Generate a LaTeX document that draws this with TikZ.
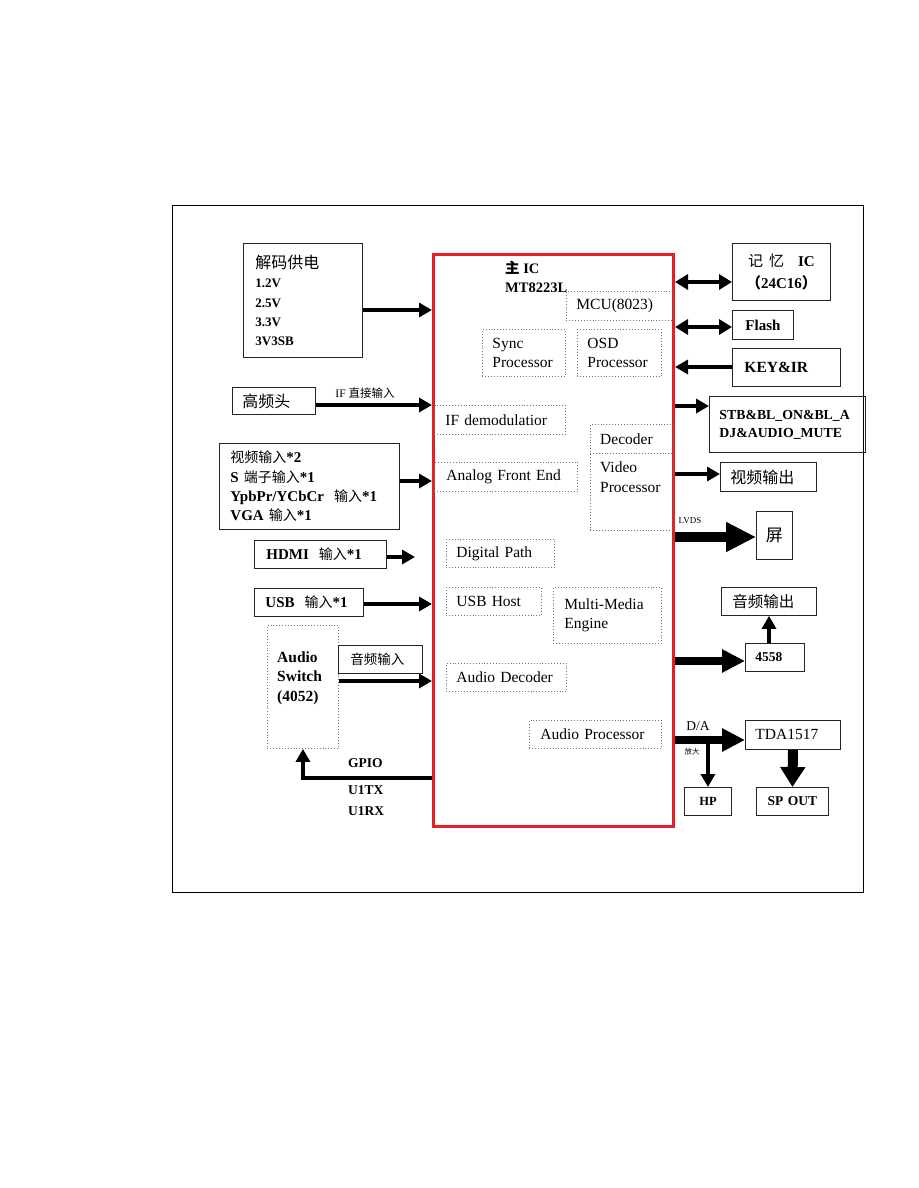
\documentclass[tikz,border=0pt]{standalone}
\usepackage{fontspec}
\setmainfont{Liberation Serif}
\newfontfamily\cjk{Noto Sans CJK SC}
\usetikzlibrary{arrows.meta}
\newcommand{\zh}[1]{{\cjk #1}}
\newcommand{\fs}[2]{\fontsize{#1}{#2}\selectfont}
\definecolor{icred}{RGB}{228,32,36}
\begin{document}
\begin{tikzpicture}[x=1pt,y=-1pt,
  bx/.style={draw=black!85, line width=0.9pt, anchor=north west, inner xsep=10pt, inner ysep=1pt, align=left},
  db/.style={draw=black!55, dotted, line width=0.9pt, anchor=north west, inner xsep=10pt, inner ysep=1pt, align=left, font=\fs{15.5}{19.5}},
  arr/.style={line width=3.5pt, -{Triangle[length=13pt,width=14pt]}},
  darr/.style={line width=3.5pt, {Triangle[length=13pt,width=15pt]}-{Triangle[length=13pt,width=15pt]}},
  fat/.style={line width=10pt, -{Triangle[length=30pt,width=28pt]}},
  mid/.style={line width=8pt, -{Triangle[length=23pt,width=22pt]}},
  fatdown/.style={line width=10pt, -{Triangle[length=20pt,width=24pt]}},
  txt/.style={inner sep=0pt, anchor=west, align=left}
]
\useasboundingbox (0,0) rectangle (918,1188);
\fill[white] (0,0) rectangle (918,1188);

% outer frame
\draw[line width=0.9pt] (172,205) rectangle (863,892);

% main IC
\node[draw=icred, line width=3pt, anchor=north west, minimum width=240pt, minimum height=572pt, inner sep=0pt] (ic) at (432,253) {};
\node[txt, font=\fs{14.5}{19}\bfseries] (ictitle) at (505,277) {\zh{主} IC\\MT8223L};

% internal blocks
\node[db, minimum width=107pt, minimum height=29pt, text width=87pt] (mcu) at (566,291) {MCU(8023)};
\node[db, minimum width=83pt, minimum height=47pt, text width=63pt] (sync) at (482,329) {Sync\\Processor};
\node[db, minimum width=84pt, minimum height=47pt, text width=64pt, inner xsep=10pt] (osd) at (577,329) {OSD\\Processor};
\node[db, minimum width=131pt, minimum height=29pt, text width=109pt, inner xsep=11pt] (ifd) at (434,405) {IF demodulatior};
\node[db, minimum width=143pt, minimum height=29pt, text width=119pt, inner xsep=12pt] (afe) at (434,462) {Analog Front End};
\node[db, minimum width=83pt, minimum height=106pt, inner sep=0pt] (dec) at (590,424) {};
\draw[draw=black!55, dotted, line width=0.9pt] (dec.west |- 0,453) -- (dec.east |- 0,453);
\node[txt, font=\fs{15.5}{19.5}] (dectxt) at (600,439) {Decoder};
\node[txt, font=\fs{15.5}{19.5}] (vptxt) at (600,477) {Video\\Processor};
\node[db, minimum width=108pt, minimum height=28pt, text width=88pt] (dp) at (446,539) {Digital Path};
\node[db, minimum width=95pt, minimum height=28pt, text width=75pt] (uh) at (446,587) {USB Host};
\node[db, minimum width=108pt, minimum height=56pt, text width=86pt, inner xsep=11pt] (mme) at (553,587) {Multi-Media\\Engine};
\node[db, minimum width=120pt, minimum height=28pt, text width=100pt] (adec) at (446,663) {Audio Decoder};
\node[db, minimum width=132pt, minimum height=28pt, text width=110pt, inner xsep=11pt] (aproc) at (529,720) {Audio Processor};

% left side
\node[bx, minimum width=119pt, minimum height=114pt, text width=95pt, inner xsep=12pt, font=\fs{13}{19.2}\bfseries] (pwr) at (243,243)
  {\zh{\fs{16}{19.2}\mdseries 解码供电}\\1.2V\\2.5V\\3.3V\\3V3SB\par\vspace{10pt}};
\node[bx, minimum width=83pt, minimum height=27pt, text width=63pt, font=\fs{16}{19}] (tun) at (232,387) {\zh{高频头}};
\node[bx, minimum width=180pt, minimum height=86pt, text width=158pt, inner xsep=11pt, font=\fs{15}{19.3}\bfseries] (vin) at (219,443)
  {\zh{\fs{14}{19.3}\mdseries 视频输入}*2\\S \zh{\fs{14}{19.3}\mdseries 端子输入}*1\\YpbPr/YCbCr\ \ \zh{\fs{14}{19.3}\mdseries 输入}*1\\VGA \zh{\fs{14}{19.3}\mdseries 输入}*1};
\node[bx, minimum width=132pt, minimum height=28pt, text width=108pt, inner xsep=12pt, font=\fs{15}{19}\bfseries] (hdmi) at (254,540)
  {HDMI\ \ \zh{\fs{14}{19}\mdseries 输入}*1};
\node[bx, minimum width=109pt, minimum height=28pt, text width=87pt, inner xsep=11pt, font=\fs{15}{19}\bfseries] (usb) at (254,588)
  {USB\ \ \zh{\fs{14}{19}\mdseries 输入}*1};
\node[db, minimum width=71pt, minimum height=123pt, inner sep=0pt] (sw) at (267,625) {};
\node[txt, font=\fs{15.5}{19.5}\bfseries] (swt) at (277,678) {Audio\\Switch\\(4052)};
\node[bx, minimum width=84pt, minimum height=28pt, text width=60pt, inner xsep=12pt, font=\fs{13.5}{19}] (ain) at (338,645) {\zh{音频输入}};

% right side
\node[bx, minimum width=98pt, minimum height=57pt, text width=90pt, inner xsep=4pt, align=center, font=\fs{15}{22}\bfseries] (mem) at (732,243)
  {\zh{\mdseries 记\hspace{6pt}忆}\hspace{14pt}IC\\\zh{（}24C16\zh{）}\par\vspace{4pt}};
\node[bx, minimum width=61pt, minimum height=29pt, text width=41pt, align=center, font=\fs{15}{19}\bfseries] (flash) at (732,310) {Flash};
\node[bx, minimum width=108pt, minimum height=38pt, text width=84pt, inner xsep=12pt, font=\fs{15.5}{19}\bfseries] (key) at (732,348) {KEY\&IR};
\node[bx, minimum width=156pt, minimum height=56pt, text width=136pt, font=\fs{13.8}{18}\bfseries] (stb) at (709,396) {STB\&BL\_ON\&BL\_A\\DJ\&AUDIO\_MUTE};
\node[bx, minimum width=96pt, minimum height=29pt, text width=76pt, font=\fs{16}{19}] (vout) at (720,462) {\zh{视频输出}};
\node[bx, minimum width=36pt, minimum height=48pt, text width=32pt, inner xsep=2pt, align=center, font=\fs{17}{19}] (scr) at (756,511) {\zh{屏}};
\node[bx, minimum width=95pt, minimum height=28pt, text width=73pt, inner xsep=11pt, font=\fs{15.5}{19}] (aout) at (721,587) {\zh{音频输出}};
\node[bx, minimum width=59pt, minimum height=28pt, text width=39pt, font=\fs{13.5}{19}\bfseries] (a4558) at (745,643) {4558};
\node[bx, minimum width=95pt, minimum height=29pt, text width=75pt, font=\fs{15.5}{19}] (tda) at (745,720) {TDA1517};
\node[bx, minimum width=47pt, minimum height=28pt, text width=31pt, inner xsep=8pt, align=center, font=\fs{12.5}{19}\bfseries] (hp) at (684,787) {HP};
\node[bx, minimum width=72pt, minimum height=28pt, text width=56pt, inner xsep=8pt, align=center, font=\fs{13.5}{19}\bfseries] (sp) at (756,787) {SP OUT};

% labels
\node[font=\fs{11.5}{13}, inner sep=0pt] (iflab) at (365,393) {IF \zh{直接输入}};
\node[font=\fs{9}{11}, inner sep=0pt] (lvds) at (690,521) {LVDS};
\node[font=\fs{13.5}{15}, inner sep=0pt] (da) at (698,726) {D/A};
\node[font=\fs{7.5}{9}, inner sep=0pt] (fangda) at (692,752) {\zh{放大}};
\node[txt, font=\fs{13.5}{15}\bfseries] (gpio) at (348,763) {GPIO};
\node[txt, font=\fs{13.5}{15}\bfseries] (u1tx) at (348,790) {U1TX};
\node[txt, font=\fs{13.5}{15}\bfseries] (u1rx) at (348,811) {U1RX};

% left connectors
\draw[arr] (pwr.east |- 0,310) -- (ic.west |- 0,310);
\draw[arr] (tun.east |- 0,405) -- (ic.west |- 0,405);
\draw[arr] (vin.east |- 0,481) -- (ic.west |- 0,481);
\coordinate (hdmiend) at (415,557);
\draw[arr] (hdmi.east |- 0,557) -- (hdmiend);
\draw[arr] (usb.east |- 0,604) -- (ic.west |- 0,604);
\draw[arr] (sw.east |- 0,681) -- (ic.west |- 0,681);
\draw[arr] (ic.west |- 0,778) -| (sw.south);

% right connectors
\draw[darr] (ic.east |- 0,282) -- (mem.west |- 0,282);
\draw[darr] (ic.east |- 0,327) -- (flash.west |- 0,327);
\draw[arr] (key.west |- 0,367) -- (ic.east |- 0,367);
\draw[arr] (ic.east |- 0,406) -- (stb.west |- 0,406);
\draw[arr] (ic.east |- 0,474) -- (vout.west |- 0,474);
\draw[fat] (ic.east |- 0,537) -- (scr.west |- 0,537);
\draw[mid] (ic.east |- 0,661) -- (a4558.west |- 0,661);
\draw[arr] (a4558.north -| 769,0) -- (aout.south -| 769,0);
\draw[mid] (ic.east |- 0,740) -- (tda.west |- 0,740);
\draw[arr] (hp.north |- 0,740) -- (hp.north);
\draw[fatdown] (tda.south) -- (sp.north);
\end{tikzpicture}
\end{document}
